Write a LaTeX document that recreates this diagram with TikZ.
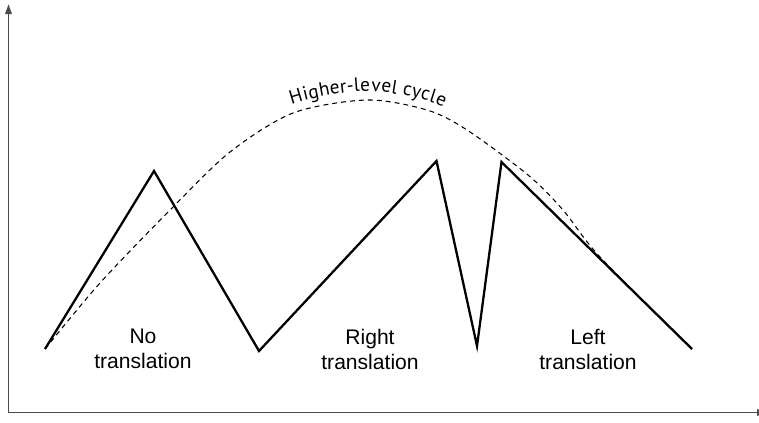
\documentclass[tikz,border=0pt]{standalone}
\usepackage{fontspec}
\setmainfont{Liberation Sans}
\newfontfamily\cyclefont{PT Sans}
\usepackage{tikz}
\usetikzlibrary{arrows.meta,decorations.text}
\usepackage{xcolor}

\begin{document}
\begin{tikzpicture}[x=0.02cm,y=-0.02cm,>={Triangle[length=5.7pt,width=3.6pt]},
  tlabel/.style={align=center,anchor=north,inner sep=0pt,font=\fontsize{12}{14.2}\selectfont}]
\useasboundingbox (0,0) rectangle (759,422);
% axes
\coordinate (O) at (8.5,412.5);
\coordinate (ytop) at (8.5,4);
\coordinate (xend) at (767,412.5);
\draw[<->,line width=1.1pt,black!70] (ytop) -- (O) -- (xend);
% zigzag
\coordinate (s) at (45,349);
\coordinate (p1) at (154,171);
\coordinate (v1) at (259,351);
\coordinate (p2) at (436.5,161);
\coordinate (v2) at (477,346);
\coordinate (p3) at (501.5,162);
\coordinate (e) at (692,349);
\draw[line width=1.3pt] (s) -- (p1) -- (v1) -- (p2) -- (v2) -- (p3) -- (e);
% higher-level cycle
\draw[line width=0.6pt,dash pattern=on 2.8pt off 2.3pt,
  postaction={decorate,decoration={text along path,text align=center,raise=5pt,
    text={|\cyclefont\fontsize{11}{13}\selectfont|Higher-level cycle}}}]
  plot[smooth] coordinates {(45,349) (100,283) (173,207) (230,152) (293,113) (367,100) (427,110) (467,130) (528,175) (563,210) (600,257) (692,349)};
% labels
\node[tlabel] (noT) at (143,329) {No\\translation};
\node[tlabel] (rightT) at (370,329) {Right\\translation};
\node[tlabel] (leftT) at (588,329) {Left\\translation};
\end{tikzpicture}
\end{document}
